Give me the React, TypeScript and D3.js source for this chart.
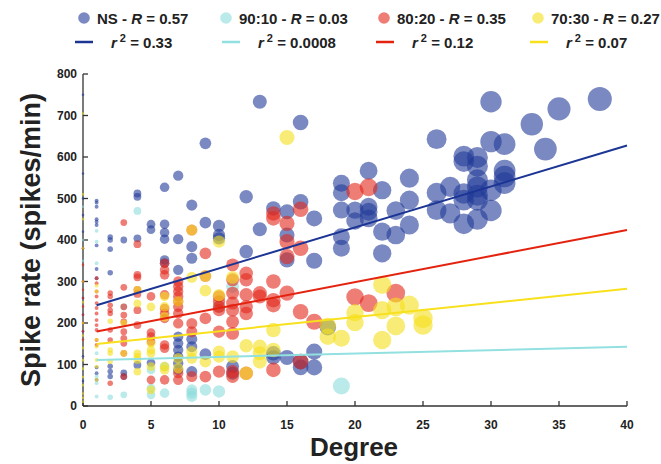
import React from "react";
import * as d3 from "d3";

// [degree, spike rate]
const nsPoints: [number, number][] = [
  [0, 750], [0, 560], [0, 500], [0, 460], [0, 420], [0, 380], [0, 300], [0, 260], [0, 220], [0, 180], [0, 120], [0, 60],
  [1, 495], [1, 490], [1, 480], [1, 450], [1, 444], [1, 436], [1, 387], [1, 330], [1, 308], [1, 93], [1, 79], [1, 63],
  [2, 407], [2, 400], [2, 378], [2, 321], [2, 96], [2, 83], [2, 71],
  [3, 400], [3, 80], [3, 71],
  [4, 512], [4, 504], [4, 404], [4, 99],
  [5, 438], [5, 425], [5, 104],
  [6, 527], [6, 438], [6, 418], [6, 402], [6, 352], [6, 344],
  [7, 555], [7, 402], [7, 328], [7, 167], [7, 151], [7, 135], [7, 119], [7, 103], [7, 87],
  [8, 484], [8, 384], [8, 356], [8, 161], [8, 143], [8, 83],
  [9, 633], [9, 442], [9, 125],
  [10, 434], [10, 412], [10, 404],
  [11, 95], [11, 79],
  [12, 504], [12, 372],
  [13, 733], [13, 426],
  [14, 476], [14, 117], [14, 127],
  [15, 468], [15, 412], [15, 352], [15, 117],
  [16, 683], [16, 492], [16, 107], [16, 93],
  [17, 452], [17, 350], [17, 131], [17, 93],
  [18, 190],
  [19, 537], [19, 514], [19, 472], [19, 408], [19, 380],
  [20, 472], [20, 446],
  [21, 567], [21, 480], [21, 468], [21, 452],
  [22, 520], [22, 420], [22, 368],
  [23, 471], [23, 412],
  [24, 549], [24, 496], [24, 436],
  [26, 643], [26, 514], [26, 472],
  [27, 528], [27, 464],
  [28, 602], [28, 589], [28, 512], [28, 496], [28, 439],
  [29, 599], [29, 578], [29, 545], [29, 528], [29, 508], [29, 496], [29, 450],
  [30, 733], [30, 637], [30, 520], [30, 471],
  [31, 631], [31, 567], [31, 553], [31, 537],
  [33, 679], [34, 619], [35, 716], [38, 740],
];

const p9010Points: [number, number][] = [
  [0, 480], [0, 400], [0, 350],
  [1, 422], [1, 396], [1, 344], [1, 127], [1, 71], [1, 55], [1, 23],
  [2, 21],
  [3, 239], [3, 27],
  [4, 470],
  [5, 87], [5, 43], [5, 27],
  [6, 95], [6, 31],
  [8, 39], [8, 23], [8, 31],
  [9, 39],
  [10, 35], [10, 240],
  [11, 288],
  [19, 48],
];

const p8020Points: [number, number][] = [
  [0, 380], [0, 340], [0, 300], [0, 280], [0, 260], [0, 240], [0, 220], [0, 200], [0, 180], [0, 160],
  [1, 308], [1, 296], [1, 276], [1, 264], [1, 248], [1, 236], [1, 223], [1, 207], [1, 195], [1, 183], [1, 159], [1, 147],
  [2, 272], [2, 264], [2, 243], [2, 231], [2, 223], [2, 183], [2, 159], [2, 55],
  [3, 442], [3, 286], [3, 239], [3, 219], [3, 203], [3, 179], [3, 163], [3, 151], [3, 127], [3, 71],
  [4, 390], [4, 316], [4, 310], [4, 280], [4, 270], [4, 231], [4, 195],
  [5, 264], [5, 177], [5, 167], [5, 155], [5, 63],
  [6, 344], [6, 328], [6, 316], [6, 268], [6, 235], [6, 223], [6, 211], [6, 147], [6, 139], [6, 63],
  [7, 300], [7, 288], [7, 276], [7, 264], [7, 252], [7, 239], [7, 223], [7, 199], [7, 79], [7, 63],
  [8, 424], [8, 199], [8, 179], [8, 71],
  [9, 368], [9, 313], [9, 211], [9, 71],
  [10, 264], [10, 252], [10, 239], [10, 231], [10, 179], [10, 83],
  [11, 340], [11, 304], [11, 272], [11, 248], [11, 231], [11, 203], [11, 175], [11, 71], [11, 83],
  [12, 320], [12, 304], [12, 268], [12, 239], [12, 223], [12, 79],
  [13, 272], [13, 264],
  [14, 464], [14, 452], [14, 300], [14, 255], [14, 243], [14, 87],
  [15, 440], [15, 396], [15, 360], [15, 272],
  [16, 474], [16, 380], [16, 227], [16, 107],
  [17, 203],
  [20, 517], [20, 263],
  [21, 527], [21, 248],
  [23, 272],
];

const p7030Points: [number, number][] = [
  [0, 705], [0, 510], [0, 450], [0, 380], [0, 300], [0, 250], [0, 200], [0, 170], [0, 140], [0, 110], [0, 90], [0, 70], [0, 50], [0, 30], [0, 20], [0, 10],
  [1, 290], [1, 276], [1, 160], [1, 143], [1, 111], [1, 95], [1, 63],
  [2, 204], [2, 135], [2, 127], [2, 107],
  [3, 200], [3, 127],
  [4, 280], [4, 247], [4, 127], [4, 119], [4, 111], [4, 83],
  [5, 239], [5, 151], [5, 135], [5, 127], [5, 95], [5, 39],
  [6, 264], [6, 239], [6, 215], [6, 95], [6, 87],
  [7, 252], [7, 115], [7, 91],
  [8, 424], [8, 310], [8, 131], [8, 115],
  [9, 313], [9, 278], [9, 107],
  [10, 396], [10, 267], [10, 131], [10, 119],
  [11, 310], [11, 119],
  [12, 145], [12, 79],
  [13, 143], [13, 127], [13, 107],
  [14, 183], [14, 135],
  [15, 647],
  [18, 193], [18, 167],
  [19, 163],
  [20, 225], [20, 201],
  [22, 292], [22, 231], [22, 159],
  [23, 239], [23, 193],
  [24, 243],
  [25, 211], [25, 195],
];

const seriesNames = ["NS", "90:10", "80:20", "70:30"];
const rValues = ["0.57", "0.03", "0.35", "0.27"];
const r2Values = ["0.33", "0.0008", "0.12", "0.07"];
// linear fits (rate = intercept + slope * degree), drawn from degree 1 to 40
const fitSlopes = [9.87, 0.82, 6.28, 3.41];
const fitIntercepts = [233, 110, 173, 146];
const fitRange = [1, 40];
const xTicks = [0, 5, 10, 15, 20, 25, 30, 35, 40];
const yTicks = [0, 100, 200, 300, 400, 500, 600, 700, 800];

const dotColors = ["#223a98", "#8cdcdc", "#e3261b", "#f5e01a"];
const lineColors = ["#1c3594", "#93e0e0", "#e3230f", "#f8e11c"];
const allSeries = [nsPoints, p9010Points, p8020Points, p7030Points];

const font = "'Liberation Sans', Arial, Helvetica, sans-serif";

const App = () => {
  const width = 661;
  const height = 464;
  const x = d3.scaleLinear().domain([0, 40]).range([83, 627]);
  const y = d3.scaleLinear().domain([0, 800]).range([406, 74]);
  const radius = (d: number) => (d === 0 ? 1.3 : 1.95 * Math.sqrt(d));

  const legendDotX = [84, 226, 384, 538];
  const legendLineX = [75, 222, 376, 530];
  const legendR2X = [111, 258, 412, 566];

  return (
    <svg width={width} height={height} style={{ position: "absolute", left: 0, top: 0 }} fontFamily={font}>
      <rect width={width} height={height} fill="white" />

      {/* axes */}
      <g stroke="#333" strokeWidth={1.3}>
        <line x1={x(0)} x2={x(40)} y1={y(0)} y2={y(0)} />
        <line x1={x(0)} x2={x(0)} y1={y(0)} y2={y(800)} />
        {xTicks.map(t => <line key={t} x1={x(t)} x2={x(t)} y1={y(0)} y2={y(0) - 5} />)}
        {yTicks.map(t => <line key={t} x1={x(0)} x2={x(0) + 5} y1={y(t)} y2={y(t)} />)}
      </g>
      <g fontSize={12} fontWeight="bold" fill="#222">
        {xTicks.map(t => <text key={t} x={x(t)} y={429} textAnchor="middle">{t}</text>)}
        {yTicks.map(t => <text key={t} x={77} y={y(t) + 4} textAnchor="end">{t}</text>)}
      </g>

      {allSeries.map((pts, si) => (
        <g key={si} fill={dotColors[si]} fillOpacity={0.6}>
          {pts.map(([d, v], i) => (
            <circle key={i} cx={x(d)} cy={y(v)} r={radius(d)} />
          ))}
        </g>
      ))}

      {fitSlopes.map((s, i) => {
        const line = d3.line<number>().x(dg => x(dg)).y(dg => y(fitIntercepts[i] + s * dg));
        return <path key={i} d={line(fitRange) || ""} stroke={lineColors[i]} strokeWidth={2} fill="none" />;
      })}

      <text x={354} y={456} textAnchor="middle" fontSize={26} fontWeight="bold" fill="#222">Degree</text>
      <text transform={`translate(40,${(y(0) + y(800)) / 2}) rotate(-90)`} textAnchor="middle" fontSize={27} fontWeight="bold" fill="#222">
        Spike rate (spikes/min)
      </text>

      {/* legend */}
      <g fontSize={15} fontWeight="bold" fill="#222">
        {seriesNames.map((n, i) => (
          <g key={n}>
            <circle cx={legendDotX[i]} cy={18} r={5.8} fill={dotColors[i]} fillOpacity={0.6} />
            <text x={legendDotX[i] + 13} y={24}>
              {n} - <tspan fontStyle="italic">R</tspan> = {rValues[i]}
            </text>
            <line x1={legendLineX[i]} x2={legendLineX[i] + 18} y1={42} y2={42} stroke={lineColors[i]} strokeWidth={2.5} />
            <text x={legendR2X[i]} y={48}>
              <tspan fontStyle="italic">r</tspan>
              <tspan dx={3} dy={-6} fontSize={11}>2</tspan>
              <tspan dy={6}> = {r2Values[i]}</tspan>
            </text>
          </g>
        ))}
      </g>
    </svg>
  );
};

export default App;
